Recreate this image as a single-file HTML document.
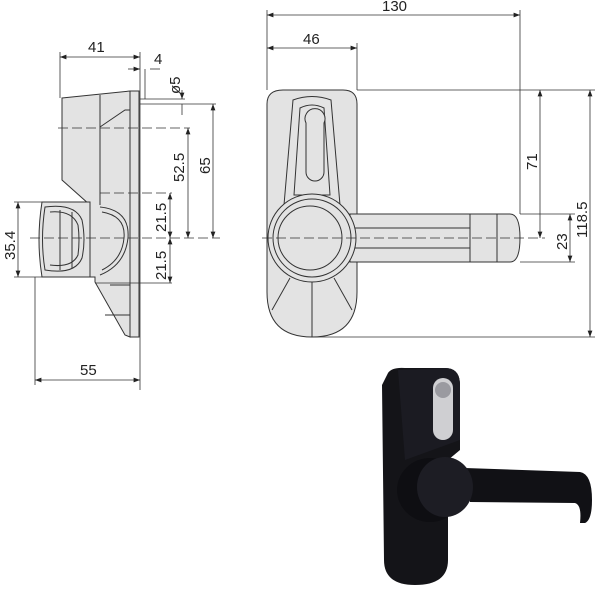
<!DOCTYPE html>
<html><head><style>
html,body{margin:0;padding:0;background:#fff;}
svg{display:block;}
text{font-family:"Liberation Sans",sans-serif;font-size:15px;fill:#222;}
</style></head><body>
<svg width="600" height="600" viewBox="0 0 600 600">
<defs>
<marker id="a" markerWidth="8" markerHeight="6" refX="8" refY="3" orient="auto-start-reverse"><path d="M0,0 L8,3 L0,6 z" fill="#222"/></marker>
</defs>
<g stroke="#333" stroke-width="1" fill="#e3e3e3">
<!-- LEFT VIEW -->
<path d="M62,98 L130,91 L130,337 L125,335 L95,282 L95,277 L90,277 L90,205 L62,180 Z"/>
<rect x="130" y="91" width="9" height="246"/>
<line x1="100" y1="95" x2="100" y2="205"/>
<path d="M100,127 L125,110 L130,110" fill="none"/>
<path d="M100,207 Q130,210 128,238 Q125,265 100,275" fill="none"/>
<path d="M102,212 Q126,216 124,238 Q122,260 102,270" fill="none"/>
<path d="M42,202 L90,202 L90,277 L42,277 Q36,240 42,202 Z"/>
<path d="M45,207 Q75,203 82,220 Q86,240 82,258 Q75,275 45,270 Q40,240 45,207 Z" fill="none"/>
<path d="M50,212 Q72,210 78,225 Q80,240 78,255 Q72,268 50,265" fill="none"/>
<line x1="60" y1="210" x2="60" y2="270"/><line x1="72" y1="212" x2="72" y2="268"/>
<line x1="105" y1="315" x2="130" y2="315"/><line x1="110" y1="285" x2="130" y2="285"/>
</g>
<g stroke="#333" stroke-width="0.8" fill="none">
<line x1="30" y1="238" x2="220" y2="238" stroke-dasharray="10,4"/>
<line x1="58" y1="128" x2="190" y2="128" stroke-dasharray="10,4"/>
<line x1="100" y1="193" x2="172" y2="193" stroke-dasharray="10,4"/>
<line x1="95" y1="283" x2="172" y2="283"/>
<line x1="140" y1="104" x2="216" y2="104"/>
<line x1="140" y1="99" x2="185" y2="99"/>
<line x1="60" y1="52" x2="60" y2="98"/><line x1="140" y1="52" x2="140" y2="390"/>
<line x1="60" y1="57" x2="140" y2="57" marker-start="url(#a)" marker-end="url(#a)"/>
<line x1="128" y1="69" x2="140" y2="69" marker-end="url(#a)"/>
<line x1="150" y1="69" x2="160" y2="69"/>
<line x1="145" y1="69" x2="145" y2="99"/>
<line x1="182" y1="90" x2="182" y2="99" marker-end="url(#a)"/>
<line x1="182" y1="104" x2="182" y2="115"/>
<line x1="188" y1="128" x2="188" y2="238" marker-start="url(#a)" marker-end="url(#a)"/>
<line x1="213" y1="104" x2="213" y2="238" marker-start="url(#a)" marker-end="url(#a)"/>
<line x1="170" y1="193" x2="170" y2="238" marker-start="url(#a)" marker-end="url(#a)"/>
<line x1="170" y1="238" x2="170" y2="283" marker-start="url(#a)" marker-end="url(#a)"/>
<line x1="14" y1="202" x2="42" y2="202"/><line x1="14" y1="277" x2="42" y2="277"/>
<line x1="18" y1="202" x2="18" y2="277" marker-start="url(#a)" marker-end="url(#a)"/>
<line x1="35" y1="277" x2="35" y2="385"/>
<line x1="35" y1="380" x2="140" y2="380" marker-start="url(#a)" marker-end="url(#a)"/>
</g>
<text x="88" y="52">41</text>
<text x="154" y="64">4</text>
<text transform="translate(180,94) rotate(-90)">ø5</text>
<text transform="translate(184,182) rotate(-90)">52.5</text>
<text transform="translate(210,174) rotate(-90)">65</text>
<text transform="translate(166,232) rotate(-90)">21.5</text>
<text transform="translate(166,280) rotate(-90)">21.5</text>
<text transform="translate(15,260) rotate(-90)">35.4</text>
<text x="80" y="375">55</text>

<!-- FRONT VIEW -->
<g stroke="#333" stroke-width="1" fill="#e3e3e3">
<path d="M283,90 L343,90 Q357,90 357,104 L357,292 Q357,337 312,337 Q267,337 267,292 L267,104 Q267,90 283,90 Z"/>
<path d="M293,100 Q312,93 331,100 L340,205 L284,205 Z" fill="none"/>
<path d="M300,108 Q312,102 324,108 L330,195 L294,195 Z" fill="none"/>
<path d="M306,123 A10,10 0 1 1 324,123 L324,172 A9,9 0 0 1 306,172 Z"/>
<path d="M350,214 L510,214 Q520,214 520,238 Q520,262 510,262 L350,262 Z"/>
<line x1="470" y1="214" x2="470" y2="262"/><line x1="497" y1="214" x2="497" y2="262"/>
<line x1="355" y1="228" x2="470" y2="228"/><line x1="355" y1="248" x2="470" y2="248"/>
<circle cx="312" cy="238" r="44"/>
<circle cx="312" cy="238" r="39" fill="none"/>
<circle cx="310" cy="238" r="32"/>
<line x1="312" y1="282" x2="312" y2="337"/>
<line x1="290" y1="278" x2="272" y2="310"/><line x1="334" y1="278" x2="352" y2="310"/>
</g>
<g stroke="#333" stroke-width="0.8" fill="none">
<line x1="262" y1="238" x2="545" y2="238" stroke-dasharray="10,4"/>
<line x1="267" y1="10" x2="267" y2="90"/><line x1="520" y1="10" x2="520" y2="214"/>
<line x1="357" y1="43" x2="357" y2="90"/>
<line x1="267" y1="15" x2="520" y2="15" marker-start="url(#a)" marker-end="url(#a)"/>
<line x1="267" y1="48" x2="357" y2="48" marker-start="url(#a)" marker-end="url(#a)"/>
<line x1="357" y1="90" x2="595" y2="90"/>
<line x1="520" y1="214" x2="575" y2="214"/><line x1="520" y1="262" x2="575" y2="262"/>
<line x1="312" y1="337" x2="595" y2="337"/>
<line x1="540" y1="90" x2="540" y2="238" marker-start="url(#a)" marker-end="url(#a)"/>
<line x1="570" y1="214" x2="570" y2="262" marker-start="url(#a)" marker-end="url(#a)"/>
<line x1="590" y1="90" x2="590" y2="337" marker-start="url(#a)" marker-end="url(#a)"/>
</g>
<text x="382" y="11">130</text>
<text x="303" y="44">46</text>
<text transform="translate(537,170) rotate(-90)">71</text>
<text transform="translate(567,250) rotate(-90)">23</text>
<text transform="translate(587,238) rotate(-90)">118.5</text>

<!-- PHOTO -->
<path d="M388,373 Q392,367 405,368 L445,368 Q460,368 460,385 L460,450 L448,460 L448,560 Q448,585 415,585 Q384,585 384,560 L382,385 Z" fill="#141418"/>
<path d="M398,370 L445,368 Q460,368 460,385 L460,440 L405,460 Z" fill="#1b1b22"/>
<rect x="433" y="378" width="20" height="62" rx="10" fill="#cfcfd2"/>
<circle cx="443" cy="390" r="8" fill="#9a9aa0"/>
<path d="M465,468 L580,472 Q592,474 592,500 Q592,520 585,523 L580,523 Q582,505 575,503 L470,502 Z" fill="#111115"/>
<ellipse cx="430" cy="490" rx="33" ry="32" fill="#0e0e12"/>
<ellipse cx="445" cy="487" rx="28" ry="30" fill="#1d1d24"/>
</svg>
</body></html>
